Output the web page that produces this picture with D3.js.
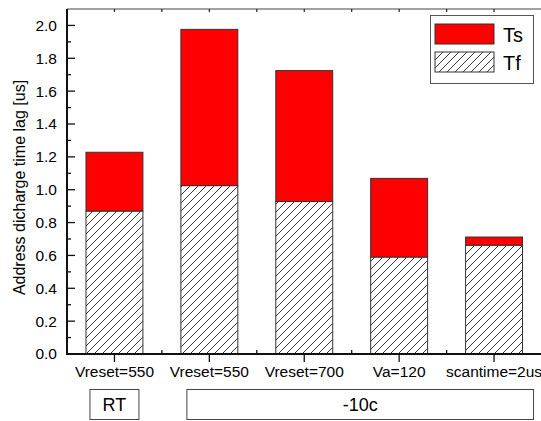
<!DOCTYPE html>
<html>
<head>
<meta charset="utf-8">
<script src="https://cdn.jsdelivr.net/npm/d3@7"></script>
<style>
  html, body { margin: 0; padding: 0; background: #fff; }
  svg { display: block; font-family: "Liberation Sans", Arial, sans-serif; }
</style>
</head>
<body>
<div id="chart"></div>
<script>
const CATEGORIES = ["Vreset=550", "Vreset=550", "Vreset=700", "Va=120", "scantime=2us"];
const TF = [0.87, 1.025, 0.928, 0.59, 0.662];      // hatched, bottom part
const TOTAL = [1.228, 1.976, 1.725, 1.069, 0.712]; // top of red part
const TS = TOTAL.map((t, i) => t - TF[i]);
const Y_TICKS = [0.0, 0.2, 0.4, 0.6, 0.8, 1.0, 1.2, 1.4, 1.6, 1.8, 2.0];
const GROUPS = [
  { label: "RT", first: 0, last: 0 },
  { label: "-10c", first: 1, last: 4 }
];
const SERIES = ["Ts", "Tf"];

(function () {
  const W = 541, H = 421;
  const plot = { left: 67, top: 9, right: 541.5, bottom: 354 };

  const svg = d3.select("#chart").append("svg")
    .attr("width", W)
    .attr("height", H);

  const defs = svg.append("defs");
  const pat = defs.append("pattern")
    .attr("id", "hatch")
    .attr("patternUnits", "userSpaceOnUse")
    .attr("width", 8)
    .attr("height", 8);
  pat.append("rect").attr("width", 8).attr("height", 8).attr("fill", "#fff");
  pat.append("path")
    .attr("d", "M-2,2 L2,-2 M0,8 L8,0 M6,10 L10,6")
    .attr("stroke", "#222")
    .attr("stroke-width", 0.9);

  const idx = d3.range(CATEGORIES.length);
  const x = d3.scaleBand()
    .domain(idx)
    .range([plot.left, plot.right])
    .paddingInner(0.4)
    .paddingOuter(0.2);
  const step = x.step();
  const bw = x.bandwidth();
  const cx = i => x(i) + bw / 2;

  const y = d3.scaleLinear().domain([0, 2.1]).range([plot.bottom, plot.top]);

  // bars: Tf (hatched) at bottom, Ts (red) on top
  const bars = svg.append("g");
  bars.selectAll("rect.tf")
    .data(idx)
    .join("rect")
    .attr("class", "tf")
    .attr("x", d => x(d))
    .attr("width", bw)
    .attr("y", d => y(TF[d]))
    .attr("height", d => y(0) - y(TF[d]))
    .attr("fill", "url(#hatch)")
    .attr("stroke", "#333")
    .attr("stroke-width", 1);
  bars.selectAll("rect.ts")
    .data(idx)
    .join("rect")
    .attr("class", "ts")
    .attr("x", d => x(d))
    .attr("width", bw)
    .attr("y", d => y(TF[d] + TS[d]))
    .attr("height", d => y(TF[d]) - y(TF[d] + TS[d]))
    .attr("fill", "#ff0000")
    .attr("stroke", "#333")
    .attr("stroke-width", 1);

  // top frame line with inward ticks
  const gTop = svg.append("g");
  gTop.append("line")
    .attr("x1", plot.left).attr("x2", W)
    .attr("y1", plot.top).attr("y2", plot.top)
    .attr("stroke", "#444").attr("stroke-width", 1.2);
  const topTicks = idx.map(cx).concat(idx.slice(1).map(i => x(i) - step * 0.2));
  gTop.selectAll("line.tt")
    .data(topTicks)
    .join("line")
    .attr("class", "tt")
    .attr("x1", d => d).attr("x2", d => d)
    .attr("y1", plot.top).attr("y2", plot.top + 3)
    .attr("stroke", "#222").attr("stroke-width", 1.2);

  // y axis
  const yAxis = d3.axisLeft(y)
    .tickValues(Y_TICKS)
    .tickFormat(d3.format(".1f"))
    .tickSize(0)
    .tickPadding(10);
  const gy = svg.append("g")
    .attr("transform", `translate(${plot.left},0)`)
    .call(yAxis);
  gy.select(".domain").remove();
  gy.selectAll("text")
    .attr("font-size", 15.5)
    .attr("fill", "#000")
    .attr("font-family", "Liberation Sans, Arial, sans-serif");
  const yMinor = d3.range(0.1, 2.1, 0.2);
  svg.append("g").selectAll("line")
    .data(Y_TICKS)
    .join("line")
    .attr("x1", plot.left).attr("x2", plot.left + 8)
    .attr("y1", d => y(d)).attr("y2", d => y(d))
    .attr("stroke", "#111").attr("stroke-width", 1.3);
  svg.append("g").selectAll("line")
    .data(yMinor)
    .join("line")
    .attr("x1", plot.left).attr("x2", plot.left + 4)
    .attr("y1", d => y(d)).attr("y2", d => y(d))
    .attr("stroke", "#111").attr("stroke-width", 1.3);
  svg.append("line")
    .attr("x1", plot.left).attr("x2", plot.left)
    .attr("y1", plot.top).attr("y2", plot.bottom + 1)
    .attr("stroke", "#111").attr("stroke-width", 2);

  // x axis
  const xAxis = d3.axisBottom(x)
    .tickFormat(i => CATEGORIES[i])
    .tickSize(8)
    .tickPadding(4);
  const gx = svg.append("g")
    .attr("transform", `translate(0,${plot.bottom})`)
    .call(xAxis);
  gx.select(".domain").remove();
  gx.selectAll(".tick line").attr("stroke", "#111").attr("stroke-width", 1.3);
  gx.selectAll("text")
    .attr("font-size", 15.5)
    .attr("fill", "#000")
    .attr("font-family", "Liberation Sans, Arial, sans-serif");
  svg.append("g").selectAll("line")
    .data(idx.slice(1).map(i => x(i) - step * 0.2))
    .join("line")
    .attr("x1", d => d).attr("x2", d => d)
    .attr("y1", plot.bottom).attr("y2", plot.bottom - 4)
    .attr("stroke", "#111").attr("stroke-width", 1.3);
  svg.append("line")
    .attr("x1", plot.left - 1).attr("x2", W)
    .attr("y1", plot.bottom).attr("y2", plot.bottom)
    .attr("stroke", "#111").attr("stroke-width", 2);

  // y label
  svg.append("text")
    .attr("transform", `translate(25,${(plot.top + plot.bottom) / 2 + 6}) rotate(-90)`)
    .attr("text-anchor", "middle")
    .attr("font-size", 16)
    .attr("fill", "#000")
    .text("Address dicharge time lag [us]");

  // group boxes under the category labels
  const gGroups = svg.append("g").selectAll("g")
    .data(GROUPS)
    .join("g");
  const gx0 = g => g.first === g.last ? cx(g.first) - 24.5 : x(g.first) + 6;
  const gx1 = g => g.first === g.last ? cx(g.last) + 24.5 : x(g.last) + bw + 11;
  gGroups.append("rect")
    .attr("x", g => gx0(g))
    .attr("width", g => gx1(g) - gx0(g))
    .attr("y", 389.5)
    .attr("height", 30)
    .attr("fill", "#fff")
    .attr("stroke", "#444")
    .attr("stroke-width", 1);
  gGroups.append("text")
    .attr("x", g => (gx0(g) + gx1(g)) / 2)
    .attr("y", 411)
    .attr("text-anchor", "middle")
    .attr("font-size", 18)
    .attr("fill", "#000")
    .text(g => g.label);

  // legend
  const lg = svg.append("g").attr("transform", "translate(430.5,15.5)");
  lg.append("rect")
    .attr("width", 103).attr("height", 68)
    .attr("fill", "#fff").attr("stroke", "#555").attr("stroke-width", 1);
  const items = lg.selectAll("g.item")
    .data(SERIES)
    .join("g")
    .attr("class", "item")
    .attr("transform", (d, i) => `translate(4.5,${8.5 + i * 28})`);
  items.append("rect")
    .attr("width", 59).attr("height", 20)
    .attr("fill", d => d === "Ts" ? "#ff0000" : "url(#hatch)")
    .attr("stroke", "#333").attr("stroke-width", 1);
  items.append("text")
    .attr("x", 68).attr("y", 18)
    .attr("font-size", 20)
    .attr("fill", "#000")
    .text(d => d);
})();
</script>
</body>
</html>
